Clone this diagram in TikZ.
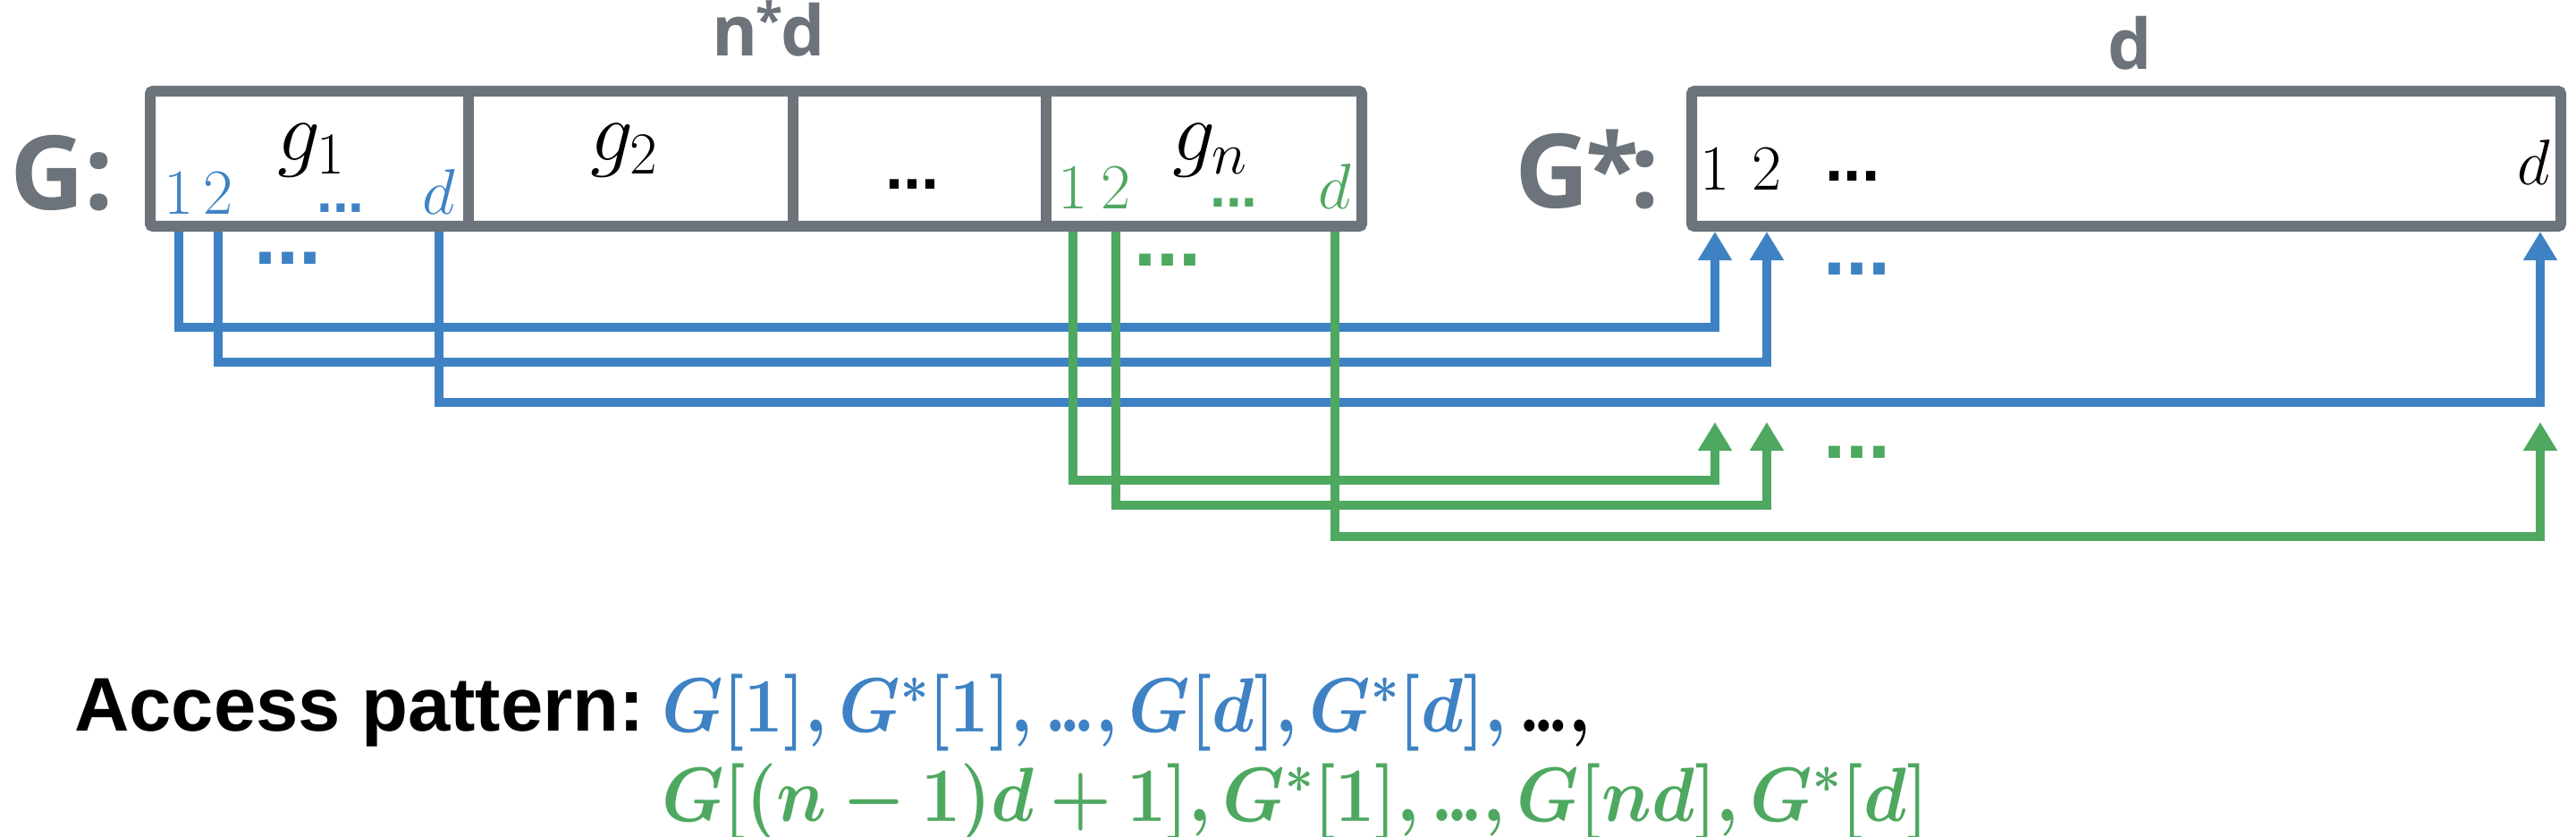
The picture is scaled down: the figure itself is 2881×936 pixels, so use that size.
\RequirePackage{fix-cm}
\documentclass[tikz,border=0pt]{standalone}
\usepackage{amsmath}
\usepackage{bm}
\usepackage{fontspec}
\usetikzlibrary{arrows.meta}
\newfontfamily\labfont{Open Sans}
\newfontfamily\accfont{Liberation Sans}
\newcommand\fsz[1]{\fontsize{#1}{#1}\selectfont}
\definecolor{blueC}{RGB}{62,130,196}
\definecolor{greenC}{RGB}{78,168,96}
\definecolor{grayC}{RGB}{108,115,122}
\newcommand\md{{.}\mkern-2mu{.}\mkern-2mu{.}}
\newcommand\accone{\scalebox{0.90}[1]{$\bm{G[1], G^{*}[1], \md, G[d], G^{*}[d],}$\,\textcolor{black}{$\bm{\md,}$}}}
\newcommand\acctwo{\scalebox{0.914}[1]{$\bm{G[(n-1)d+1], G^{*}[1], \md, G[nd], G^{*}[d]}$}}
\newcommand\ndstar{\kern-2pt\raisebox{20pt}{\fsz{55}*}\kern-2pt}
\newcommand\gstar{\kern-4pt\raisebox{4pt}{\fsz{110}*}\kern-10pt}
\begin{document}
\begin{tikzpicture}[x=1pt,y=-1pt,
  box/.style={draw=grayC, line width=12pt, rounded corners=3pt, inner sep=0pt, minimum height=151pt},
  divl/.style={draw=grayC, line width=12pt},
  conB/.style={draw=blueC, line width=10pt, -{Triangle[length=32pt,width=36pt]}},
  conG/.style={draw=greenC, line width=10pt, -{Triangle[length=32pt,width=36pt]}},
  bigl/.style={font=\labfont\bfseries\fsz{115}, text=grayC, inner sep=0pt, anchor=base west},
  diml/.style={font=\labfont\bfseries\fsz{78}, text=grayC, inner sep=0pt, anchor=base},
  gname/.style={font=\fsz{95}, inner sep=0pt, anchor=base west},
  idx/.style={font=\fsz{72}, inner sep=0pt, anchor=base},
  dots/.style={font=\accfont\bfseries\fsz{90}, inner sep=0pt, anchor=base},
  sdots/.style={font=\accfont\bfseries\fsz{64}, inner sep=0pt, anchor=base},
  acc/.style={font=\accfont\bfseries\fsz{85}, inner sep=0pt, anchor=base west},
  mline/.style={font=\fsz{86}, inner sep=0pt, anchor=base west}
]
\path[use as bounding box] (0,0) rectangle (2881,936);

% boxes
\node[box, minimum width=1355pt] (Gbox) at (845.5,177.5) {};
\node[box, minimum width=972pt] (Gsbox) at (2378,177.5) {};
\draw[divl] (524,102) -- (524,253);
\draw[divl] (887,102) -- (887,253);
\draw[divl] (1170,102) -- (1170,253);

% titles
\node[bigl] (Glab) at (11,235) {G:};
\node[bigl] (Gslab) at (1694,233) {G\gstar:};
\node[diml] (nd) at (860,63) {n\ndstar d};
\node[diml] (dd) at (2382,78) {d};

% cell names
\node[gname] (g1) at (310,180) {$g_1$};
\node[gname] (g2) at (660,180) {$g_2$};
\node[gname] (gn) at (1311,180) {$g_n$};
\node[dots, font=\accfont\bfseries\fsz{72}] (c3dots) at (1020,212) {...};

% blue indices in g1
\node[idx, text=blueC] (b1) at (200,240) {$1$};
\node[idx, text=blueC] (b2) at (244,240) {$2$};
\node[sdots, text=blueC] (bdots) at (381,237) {...};
\node[idx, text=blueC] (bd) at (491,240) {$d$};

% green indices in gn
\node[idx, text=greenC] (e1) at (1200,234) {$1$};
\node[idx, text=greenC] (e2) at (1248,234) {$2$};
\node[sdots, text=greenC] (edots) at (1380,232) {...};
\node[idx, text=greenC] (ed) at (1493,234) {$d$};

% G* indices
\node[idx] (s1) at (1918,213) {$1$};
\node[idx] (s2) at (1976,213) {$2$};
\node[dots, font=\accfont\bfseries\fsz{73}] (sdts) at (2072,203) {...};
\node[idx] (sd) at (2834,207) {$d$};

% dots between connectors
\node[dots, text=blueC] (bd1) at (322,295) {...};
\node[dots, text=greenC] (gd1) at (1306,297) {...};
\node[dots, text=blueC] (bd2) at (2077,307) {...};
\node[dots, text=greenC] (gd2) at (2077,512) {...};

% blue connectors
\draw[conB] (b1 |- Gbox.south) -- ++(0,107) -| (s1 |- Gsbox.south);
\draw[conB] (b2 |- Gbox.south) -- ++(0,146) -| (s2 |- Gsbox.south);
\draw[conB] (bd |- Gbox.south) -- ++(0,191) -| ([xshift=7pt]sd.south |- Gsbox.south);

% green connectors
\coordinate (gt1) at (1918,472);
\coordinate (gt2) at (1976,472);
\coordinate (gtd) at (2841,472);
\draw[conG] (e1 |- Gbox.south) -- ++(0,278) -| (gt1);
\draw[conG] (e2 |- Gbox.south) -- ++(0,306) -| (gt2);
\draw[conG] (ed |- Gbox.south) -- ++(0,341) -| (gtd);

% access pattern
\node[acc] (acclab) at (83,817) {Access pattern:};
\node[mline, text=blueC] (mone) at (740,818) {\accone};
\node[mline, text=greenC] (mtwo) at (740,918) {\acctwo};
\end{tikzpicture}
\end{document}
